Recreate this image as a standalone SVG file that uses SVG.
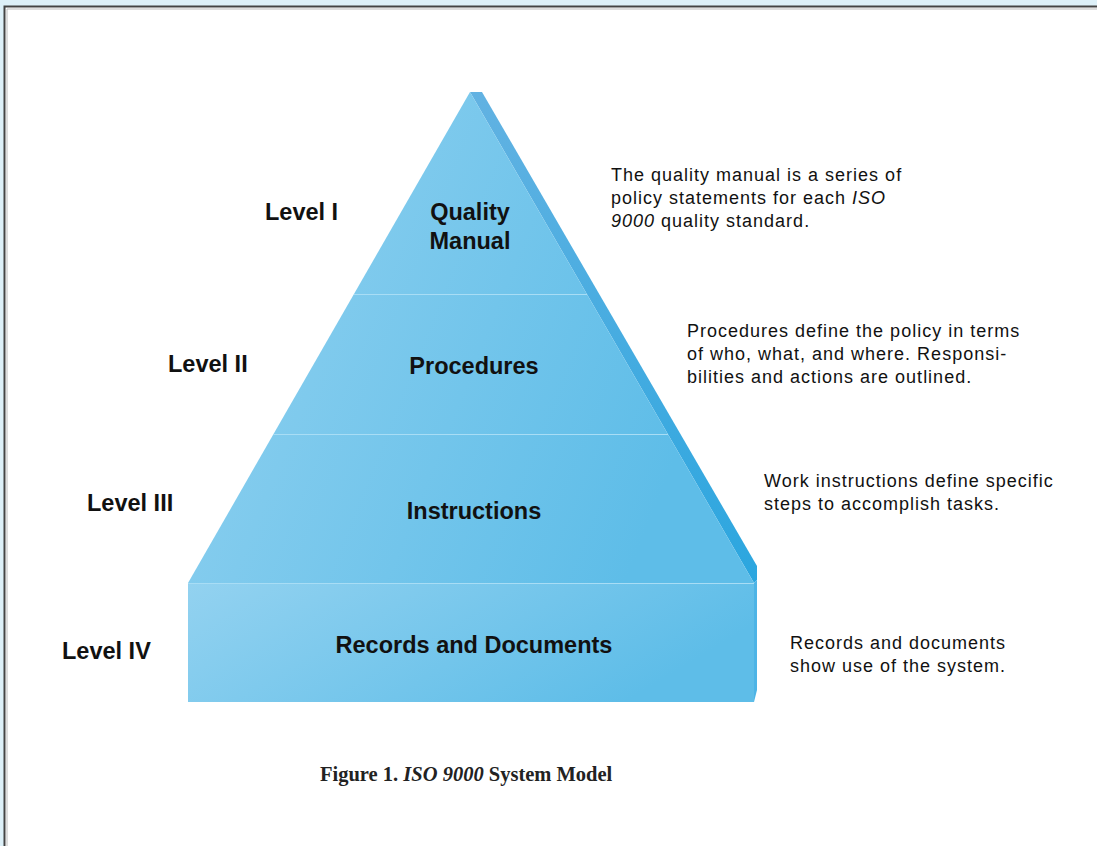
<svg xmlns="http://www.w3.org/2000/svg" width="1097" height="846" viewBox="0 0 1097 846">
<defs>
<linearGradient id="face" x1="0" y1="0" x2="1" y2="0.35">
<stop offset="0" stop-color="#93D2F0"/>
<stop offset="1" stop-color="#5EBDE8"/>
</linearGradient>
<linearGradient id="side" x1="0" y1="0" x2="0" y2="1">
<stop offset="0" stop-color="#62B2E2"/>
<stop offset="1" stop-color="#2BA6DF"/>
</linearGradient>
<style>
.lvl{font-family:"Liberation Sans",Arial,sans-serif;font-weight:bold;font-size:23.5px;fill:#111}
.lab{font-family:"Liberation Sans",Arial,sans-serif;font-weight:bold;font-size:23.5px;fill:#111;text-anchor:middle}
.desc{font-family:"Liberation Sans",Arial,sans-serif;font-size:18px;letter-spacing:1px;fill:#111}
.cap{font-family:"Liberation Serif","Times New Roman",serif;font-weight:bold;font-size:20.5px;fill:#222}
.sep{stroke:#A8DDF5;stroke-width:1.2}
</style>
</defs>
<rect x="0" y="0" width="1097" height="846" fill="#DDF0F8"/>
<rect x="4" y="6" width="1093" height="840" fill="#FFFFFF"/>
<path d="M4.5 846 V6.5 H1097" fill="none" stroke="#444" stroke-width="2"/>
<path d="M7 846 V9 H1097" fill="none" stroke="#BBB" stroke-width="1"/>

<g id="pyramid">
<polygon points="470,92 482,92 757,566 757,580 754,583" fill="url(#side)"/>
<polygon points="754,583 757,580 757,690 754,702" fill="#4DB4E6"/>
<polygon points="470,92 754,583 188,583" fill="url(#face)"/>
<rect x="188" y="583" width="566" height="119" fill="url(#face)"/>
<line class="sep" x1="354" y1="294.5" x2="587" y2="294.5"/>
<line class="sep" x1="273" y1="434.5" x2="668" y2="434.5"/>
<line class="sep" x1="188" y1="583.5" x2="754" y2="583.5"/>
</g>

<g id="level1">
<text class="lvl" x="265" y="220">Level I</text>
<text class="lab" x="470" y="220">Quality</text>
<text class="lab" x="470" y="249">Manual</text>
<text class="desc" x="611" y="181">The quality manual is a series of</text>
<text class="desc" x="611" y="204">policy statements for each <tspan font-style="italic">ISO</tspan></text>
<text class="desc" x="611" y="227"><tspan font-style="italic">9000</tspan> quality standard.</text>
</g>

<g id="level2">
<text class="lvl" x="168" y="372">Level II</text>
<text class="lab" x="474" y="374">Procedures</text>
<text class="desc" x="687" y="337">Procedures define the policy in terms</text>
<text class="desc" x="687" y="360">of who, what, and where.  Responsi-</text>
<text class="desc" x="687" y="383">bilities and actions are outlined.</text>
</g>

<g id="level3">
<text class="lvl" x="87" y="511">Level III</text>
<text class="lab" x="474" y="519">Instructions</text>
<text class="desc" x="764" y="487">Work instructions define specific</text>
<text class="desc" x="764" y="510">steps to accomplish tasks.</text>
</g>

<g id="level4">
<text class="lvl" x="62" y="659">Level IV</text>
<text class="lab" x="474" y="653">Records and Documents</text>
<text class="desc" x="790" y="649">Records and documents</text>
<text class="desc" x="790" y="672">show use of the system.</text>
</g>

<g id="connectors"></g>

<text class="cap" x="320" y="781">Figure 1. <tspan font-style="italic">ISO 9000</tspan> System Model</text>
</svg>
